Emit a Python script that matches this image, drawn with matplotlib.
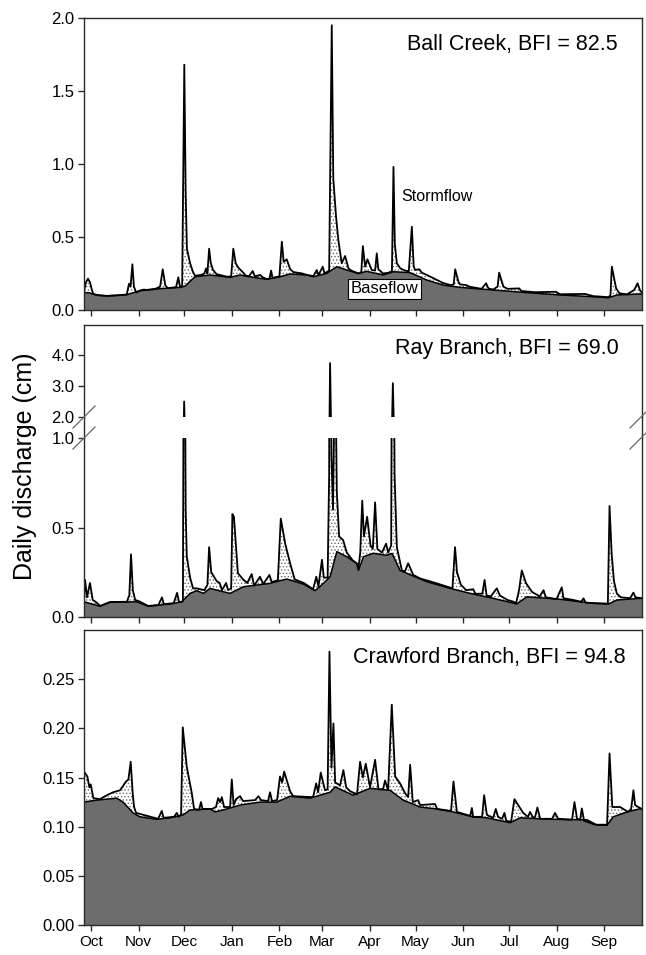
import matplotlib
matplotlib.use('Agg')
import matplotlib.pyplot as plt
from matplotlib.lines import Line2D

plt.rcParams['font.family'] = ['Liberation Sans', 'DejaVu Sans']
plt.rcParams['hatch.linewidth'] = 0.6

# ---- data: day of water year (0 = Oct 1) and daily discharge (cm) ----
months = ['Oct', 'Nov', 'Dec', 'Jan', 'Feb', 'Mar', 'Apr', 'May', 'Jun', 'Jul', 'Aug', 'Sep']
month_len = [31, 30, 31, 31, 28, 31, 30, 31, 30, 31, 31, 30]

# Ball Creek
ball_total_day = [-4.6, -3.3, -2.0, -0.7, 0.5, 1.5, 5, 10.3, 18, 23.3, 24.8, 25.8, 27.0, 28.0, 29.5, 32, 34.6, 36, 42,
                  45.1, 46.8, 48.5, 50, 55.5, 57.0, 58.1, 59.5, 60.9, 61.8, 62.6, 64.7, 66.6, 67.9, 72, 74, 75.1, 76,
                  77.1, 78.2, 79.7, 82, 88.8, 91.5, 92.9, 94.5, 96.2, 99.5, 101, 103, 105.6, 107, 110.4, 112, 114.8,
                  116.5, 117.6, 118.5, 123, 124.6, 125.8, 127.8, 130.0, 132.1, 138, 141, 145.2, 147.4, 148.5, 151.3,
                  152.5, 155.5, 157.2, 158.2, 160.0, 161.5, 163.7, 165.9, 168.1, 170, 174.6, 176.5, 177.5, 179.0,
                  180.5, 183.3, 185.5, 186.6, 187.6, 190.7, 194.0, 196.5, 197.5, 198.4, 199.7, 202, 205, 207.5, 209.5,
                  210.7, 211.6, 214.4, 216, 219.3, 229.9, 235, 236.8, 237.8, 239.9, 241, 244.9, 247, 255, 258.0,
                  259.5, 262.6, 265.5, 266.5, 269.3, 272, 279.6, 281, 290, 303.5, 306.3, 322.6, 327.9, 337.9, 339.2,
                  340.1, 342.9, 345, 350, 354.7, 356.9, 358.6, 359.8]
ball_total_q = [0.13, 0.19, 0.215, 0.19, 0.14, 0.11, 0.10, 0.097, 0.101, 0.106, 0.18, 0.16, 0.313, 0.16, 0.12, 0.133,
                0.14, 0.137, 0.145, 0.16, 0.279, 0.17, 0.15, 0.156, 0.224, 0.16, 0.16, 1.68, 0.8, 0.42, 0.32, 0.26,
                0.235, 0.24, 0.25, 0.285, 0.25, 0.42, 0.32, 0.274, 0.245, 0.228, 0.23, 0.42, 0.32, 0.29, 0.255, 0.235,
                0.23, 0.267, 0.23, 0.24, 0.225, 0.212, 0.215, 0.27, 0.22, 0.23, 0.468, 0.33, 0.347, 0.28, 0.26, 0.25,
                0.24, 0.232, 0.274, 0.238, 0.297, 0.25, 0.27, 1.95, 0.9, 0.64, 0.48, 0.32, 0.37, 0.285, 0.27, 0.25,
                0.26, 0.438, 0.297, 0.347, 0.274, 0.27, 0.388, 0.28, 0.25, 0.255, 0.265, 0.98, 0.45, 0.32, 0.285, 0.27,
                0.265, 0.57, 0.3, 0.274, 0.279, 0.255, 0.24, 0.185, 0.17, 0.175, 0.279, 0.194, 0.175, 0.171, 0.16,
                0.145, 0.183, 0.148, 0.14, 0.16, 0.256, 0.16, 0.145, 0.148, 0.13, 0.122, 0.125, 0.108, 0.11, 0.095,
                0.088, 0.1, 0.297, 0.148, 0.115, 0.107, 0.137, 0.183, 0.132, 0.12]
ball_base_day = [-4.6, -1, 1.5, 10.3, 23.3, 32.0, 45.1, 58.1, 61.4, 67.9, 77.7, 90.8, 97.3, 106.0, 114.8, 123.4, 130.0,
                 140.9, 145.2, 153.9, 160.5, 167.0, 174.6, 180, 190.7, 197.5, 208.4, 219.3, 229.9, 241.0, 262.6,
                 284.6, 306.3, 327.9, 337.9, 343.4, 359.8]
ball_base_q = [0.12, 0.118, 0.107, 0.096, 0.105, 0.132, 0.146, 0.155, 0.164, 0.228, 0.240, 0.224, 0.240, 0.224, 0.21,
               0.228, 0.247, 0.24, 0.228, 0.251, 0.297, 0.274, 0.25, 0.265, 0.24, 0.262, 0.256, 0.205, 0.171, 0.155,
               0.137, 0.119, 0.103, 0.091, 0.084, 0.103, 0.11]

# Ray Branch
ray_total_day = [-4.6, -3.9, -2.6, -0.7, 1.1, 3, 5.9, 12.4, 23.5, 24.2, 25, 26.1, 27.3, 28.8, 31.4, 37.2, 44, 46.3,
                 47.5, 54, 56.2, 57.5, 60, 60.8, 61.8, 62.5, 64.7, 66.6, 69, 74, 76, 77.1, 78.5, 82.1, 84, 85.5, 88.2,
                 89.5, 91.5, 92.3, 93.3, 95.9, 99.3, 102, 104.9, 106.5, 110.3, 112.5, 116.5, 118, 122, 123.9, 126.8,
                 130, 133, 139, 145, 147.1, 148.5, 150.8, 152, 154.5, 155.5, 156.1, 157, 158, 159.4, 160.5, 162, 164.6,
                 167, 171, 173.5, 174.6, 175.8, 177.1, 178.2, 180.3, 182.5, 184, 185.5, 187, 190, 192.7, 194, 196,
                 197.1, 198.2, 199.7, 203, 205, 207.1, 210.4, 215, 225, 236, 237.7, 239, 241.5, 245, 249.6, 251, 255.5,
                 257, 258.3, 261, 265, 267, 272, 276, 277.5, 279.5, 281.3, 284, 288, 293, 295.5, 297, 304, 307.4,
                 308.5, 315, 320, 321.6, 323, 330, 337.5, 338.6, 340, 341.5, 343.4, 346, 352, 354.2, 355.5, 359.8]
ray_total_q = [0.09, 0.207, 0.11, 0.19, 0.095, 0.085, 0.062, 0.084, 0.085, 0.105, 0.12, 0.35, 0.15, 0.095, 0.088, 0.062,
               0.067, 0.11, 0.072, 0.077, 0.135, 0.082, 0.087, 2.5, 0.6, 0.34, 0.22, 0.16, 0.16, 0.15, 0.18, 0.39, 0.25,
               0.2, 0.19, 0.15, 0.19, 0.15, 0.16, 0.575, 0.56, 0.245, 0.21, 0.19, 0.24, 0.175, 0.225, 0.185, 0.235,
               0.195, 0.205, 0.55, 0.41, 0.30, 0.21, 0.19, 0.155, 0.225, 0.17, 0.32, 0.22, 0.22, 0.8, 3.74, 0.9, 0.6,
               1.5, 0.7, 0.45, 0.43, 0.36, 0.315, 0.30, 0.27, 0.36, 0.65, 0.45, 0.56, 0.4, 0.38, 0.64, 0.38, 0.36,
               0.41, 0.36, 0.4, 3.09, 0.8, 0.39, 0.26, 0.255, 0.30, 0.235, 0.215, 0.19, 0.16, 0.39, 0.25, 0.18, 0.15,
               0.155, 0.13, 0.13, 0.207, 0.12, 0.115, 0.16, 0.12, 0.095, 0.085, 0.075, 0.15, 0.26, 0.19, 0.14, 0.115,
               0.15, 0.11, 0.1, 0.166, 0.105, 0.095, 0.085, 0.104, 0.08, 0.077, 0.075, 0.62, 0.35, 0.2, 0.13, 0.11,
               0.105, 0.136, 0.11, 0.105]
ray_base_day = [-4.6, 5.9, 12.4, 29.8, 37.4, 51.6, 59.2, 64.7, 69.0, 73.4, 77.7, 86.4, 90.8, 99.5, 116.9, 127.8,
                138.7, 146.3, 152, 156.1, 160.5, 167.0, 173.5, 174.6, 177.9, 184.4, 192.7, 196.6, 201.8, 219.3, 234.5,
                247.6, 262.8, 278.0, 284.6, 306.3, 328.1, 337.9, 343.4, 358.6, 359.8]
ray_base_q = [0.085, 0.06, 0.082, 0.085, 0.06, 0.073, 0.085, 0.132, 0.147, 0.132, 0.16, 0.141, 0.132, 0.169, 0.188,
              0.212, 0.184, 0.147, 0.19, 0.225, 0.365, 0.337, 0.30, 0.26, 0.337, 0.356, 0.345, 0.355, 0.26, 0.197,
              0.16, 0.132, 0.104, 0.073, 0.113, 0.099, 0.076, 0.073, 0.095, 0.104, 0.104]

# Crawford Branch
craw_total_day = [-4.6, -2.4, -1.1, -0.2, 1.5, 5.9, 10.3, 14.4, 18.9, 22.9, 24.4, 25.9, 27.2, 28.1, 29.4, 43.8, 46.2,
                  47.4, 54.2, 56.0, 57.2, 58.8, 59.9, 62.5, 65.8, 67.3, 70.5, 71.8, 72.8, 79.0, 81.6, 83.0, 84.3, 85.4,
                  86.9, 90.8, 91.9, 93.1, 94.7, 97.3, 99.3, 107.1, 109.3, 111.0, 115.6, 116.9, 118.2, 121.5, 123.4,
                  124.8, 126.1, 130.0, 132.1, 145.0, 147.0, 148.3, 150.0, 152.8, 154.5, 155.7, 157.0, 158.3, 159.4,
                  162.6, 164.8, 166.6, 169.2, 173.7, 175.7, 177.5, 179.4, 182.2, 185.5, 187.7, 190.7, 192.0, 194.0,
                  196.4, 198.6, 201.8, 205.1, 207.1, 208.4, 210.1, 213.6, 214.9, 224.7, 226.0, 235.1, 236.7, 238.9,
                  247.6, 248.7, 249.5, 255.4, 256.7, 258.5, 262.6, 264.3, 265.8, 268.4, 270.0, 271.1, 274.3, 276.5,
                  282.2, 285.4, 286.7, 288.7, 290.0, 291.5, 293.3, 301.1, 303.0, 305.0, 314.1, 315.7, 317.4, 319.4,
                  320.5, 322.0, 329.2, 337.0, 338.6, 340.4, 345.5, 350.7, 352.7, 354.2, 355.3, 357.3, 359.8]
craw_total_q = [0.156, 0.151, 0.14, 0.143, 0.129, 0.128, 0.132, 0.135, 0.137, 0.146, 0.148, 0.166, 0.134, 0.12, 0.114,
                0.108, 0.116, 0.109, 0.11, 0.114, 0.11, 0.112, 0.201, 0.161, 0.134, 0.118, 0.117, 0.125, 0.118, 0.118,
                0.12, 0.129, 0.125, 0.13, 0.12, 0.12, 0.148, 0.122, 0.128, 0.131, 0.126, 0.127, 0.131, 0.127, 0.126,
                0.135, 0.126, 0.127, 0.151, 0.145, 0.156, 0.136, 0.131, 0.13, 0.144, 0.135, 0.155, 0.137, 0.138,
                0.278, 0.16, 0.205, 0.145, 0.142, 0.1575, 0.14, 0.136, 0.133, 0.166, 0.15, 0.164, 0.14, 0.168, 0.138,
                0.138, 0.147, 0.137, 0.224, 0.151, 0.144, 0.134, 0.13, 0.163, 0.125, 0.127, 0.122, 0.123, 0.118,
                0.116, 0.146, 0.115, 0.111, 0.119, 0.11, 0.11, 0.132, 0.112, 0.109, 0.118, 0.11, 0.108, 0.114, 0.106,
                0.105, 0.128, 0.114, 0.11, 0.115, 0.109, 0.11, 0.1195, 0.108, 0.108, 0.114, 0.108, 0.107, 0.125,
                0.108, 0.107, 0.1186, 0.106, 0.102, 0.102, 0.1745, 0.12, 0.12, 0.115, 0.118, 0.137, 0.122, 0.12, 0.118]
craw_base_day = [-4.6, 3.7, 16.8, 20.9, 27.4, 32.0, 42.9, 51.6, 60.1, 64.7, 77.7, 81.0, 88.6, 97.3, 110.4, 121.3, 130.0,
                 143.0, 156.1, 159.4, 171.1, 182.2, 195.3, 203.8, 214.9, 225.8, 236.5, 249.5, 258.5, 273.7, 280.2,
                 301.7, 323.9, 330.5, 337.0, 341.0, 350.1, 357.9, 359.8]
craw_base_q = [0.125, 0.127, 0.129, 0.125, 0.114, 0.110, 0.1075, 0.109, 0.112, 0.117, 0.118, 0.115, 0.118, 0.122, 0.125,
               0.125, 0.131, 0.129, 0.135, 0.1405, 0.132, 0.139, 0.137, 0.127, 0.120, 0.118, 0.115, 0.110, 0.109, 0.104,
               0.109, 0.1075, 0.107, 0.1016, 0.1016, 0.110, 0.115, 0.118, 0.118]

GRAY = '#6d6d6d'
SPINE = '#2a2a2a'
XLIM = (-4.6, 359.8)
W, H = 646, 955


def box(left, top, right, bottom):
    # pixel box -> figure fraction rect
    return [left / W, 1 - bottom / H, (right - left) / W, (bottom - top) / H]


def draw_flow(ax, tday, tq, bday, bq):
    ax.fill_between(tday, tq, 0, facecolor='white', edgecolor='#6a6a6a', hatch='.....', linewidth=0)
    ax.fill_between(bday, bq, 0, facecolor=GRAY, linewidth=0)
    ax.plot(bday, bq, color='black', lw=1.1)
    ax.plot(tday, tq, color='black', lw=1.3)
    ax.set_xlim(*XLIM)


def style(ax, xlabels=False):
    for s in ax.spines.values():
        s.set_color(SPINE)
        s.set_linewidth(1.0)
    ticks = [sum(month_len[:i]) for i in range(len(months))]
    ax.set_xticks(ticks)
    ax.set_xticklabels(months if xlabels else [])
    ax.tick_params(direction='out', length=4, width=1, color=SPINE, labelsize=12, pad=3)
    ax.tick_params(axis='x', labelsize=11)


fig = plt.figure(figsize=(W / 100, H / 100), dpi=100)

# ---- Ball Creek ----
ax1 = fig.add_axes(box(84, 18, 642, 310))
draw_flow(ax1, ball_total_day, ball_total_q, ball_base_day, ball_base_q)
ax1.set_ylim(0, 2.0)
ax1.set_yticks([0, 0.5, 1.0, 1.5, 2.0])
ax1.yaxis.set_major_formatter('{x:.1f}')
style(ax1)
ax1.text(0.957, 0.91, 'Ball Creek, BFI = 82.5', transform=ax1.transAxes, ha='right', va='center', fontsize=15.5)
ax1.text(226, 0.774, 'Stormflow', ha='center', va='center', fontsize=11.5)
ax1.text(191.4, 0.144, 'Baseflow', ha='center', va='center', fontsize=12,
         bbox=dict(boxstyle='square,pad=0.15', facecolor='white', edgecolor='black', linewidth=0.8))

# ---- Ray Branch (broken axis) ----
ax2u = fig.add_axes(box(84, 325, 642, 417))
ax2 = fig.add_axes(box(84, 438, 642, 617))
for a in (ax2u, ax2):
    draw_flow(a, ray_total_day, ray_total_q, ray_base_day, ray_base_q)
    style(a)
ax2u.set_ylim(2.0, 4.97)
ax2u.set_yticks([2.0, 3.0, 4.0])
ax2u.yaxis.set_major_formatter('{x:.1f}')
ax2u.spines['bottom'].set_visible(False)
ax2u.tick_params(axis='x', bottom=False)
ax2.set_ylim(0, 1.0)
ax2.set_yticks([0, 0.5, 1.0])
ax2.yaxis.set_major_formatter('{x:.1f}')
ax2.spines['top'].set_visible(False)
ax2u.text(0.959, 0.74, 'Ray Branch, BFI = 69.0', transform=ax2u.transAxes, ha='right', va='center', fontsize=15.5)

# spines through the gap and break marks
for px in (84, 642):
    fig.add_artist(Line2D([px / W, px / W], [1 - 417 / H, 1 - 438 / H], transform=fig.transFigure,
                          color=SPINE, lw=1.0))
for px in (84, 641):
    for py in (417, 438):
        fig.add_artist(Line2D([(px - 11) / W, (px + 11) / W], [1 - (py + 11) / H, 1 - (py - 11) / H],
                              transform=fig.transFigure, color='#666666', lw=0.9))

# ---- Crawford Branch ----
ax3 = fig.add_axes(box(84, 630, 642, 925))
draw_flow(ax3, craw_total_day, craw_total_q, craw_base_day, craw_base_q)
ax3.set_ylim(0, 0.30)
ax3.set_yticks([0, 0.05, 0.10, 0.15, 0.20, 0.25])
ax3.yaxis.set_major_formatter('{x:.2f}')
style(ax3, xlabels=True)
ax3.text(0.971, 0.908, 'Crawford Branch, BFI = 94.8', transform=ax3.transAxes, ha='right', va='center',
         fontsize=15.5)

fig.text(25 / W, 1 - 466 / H, 'Daily discharge (cm)', rotation=90, ha='center', va='center', fontsize=18)

fig.savefig('out.png', dpi=100, facecolor='white')
